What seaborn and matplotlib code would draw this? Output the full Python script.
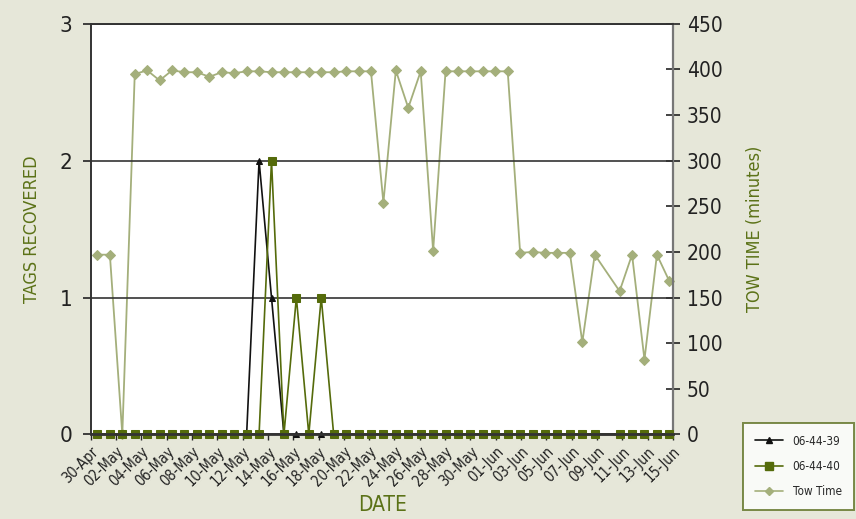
import numpy as np
import pandas as pd
import seaborn as sns
import matplotlib.pyplot as plt
from matplotlib.lines import Line2D

# one value per day, 30-Apr .. 15-Jun (47 days); 09-Jun has no data
dates = pd.date_range('2009-04-30', '2009-06-15', freq='D')
tick_labels = ['30-Apr', '02-May', '04-May', '06-May', '08-May', '10-May', '12-May',
               '14-May', '16-May', '18-May', '20-May', '22-May', '24-May', '26-May',
               '28-May', '30-May', '01-Jun', '03-Jun', '05-Jun', '07-Jun', '09-Jun',
               '11-Jun', '13-Jun', '15-Jun']

tags_39 = [0, 0, 0, 0, 0, 0, 0, 0, 0, 0, 0, 0, 0, 2, 1, 0, 0, 0, 0, 0,
           0, 0, 0, 0, 0, 0, 0, 0, 0, 0, 0, 0, 0, 0, 0, 0, 0, 0, 0, 0,
           0, np.nan, 0, 0, 0, 0, 0]
tags_40 = [0, 0, 0, 0, 0, 0, 0, 0, 0, 0, 0, 0, 0, 0, 2, 0, 1, 0, 1, 0,
           0, 0, 0, 0, 0, 0, 0, 0, 0, 0, 0, 0, 0, 0, 0, 0, 0, 0, 0, 0,
           0, np.nan, 0, 0, 0, 0, 0]
tow_time = [197, 197, 0, 395, 399, 388, 399, 397, 397, 392, 397, 396, 398, 398, 397,
            397, 397, 397, 397, 397, 398, 398, 398, 254, 399, 358, 398, 201, 398, 398,
            398, 398, 398, 398, 199, 200, 199, 199, 199, 101, 197, np.nan, 157, 197,
            82, 197, 168]

day = np.arange(len(dates))
tags = pd.DataFrame({'day': np.concatenate([day, day]),
                     'tags': tags_39 + tags_40,
                     'tag': ['06-44-39'] * len(day) + ['06-44-40'] * len(day)}).dropna()
tow = pd.DataFrame({'day': day, 'tow': tow_time}).dropna()

bg = '#e6e7d9'
olive = '#556b0b'
light = '#a4af7b'
label_c = '#5b7217'

sns.set_style('white')
plt.rcParams['font.family'] = ['DejaVu Sans']
plt.rcParams['font.stretch'] = 'condensed'

fig = plt.figure(figsize=(8.56, 5.19), dpi=100, facecolor=bg)
ax = fig.add_axes([0.106, 0.163, 0.68, 0.791])
ax2 = ax.twinx()

sns.lineplot(data=tow, x='day', y='tow', ax=ax2, color=light, lw=1.3,
             marker='D', markersize=5, markeredgecolor=light, clip_on=False)

sns.lineplot(data=tags, x='day', y='tags', hue='tag', style='tag', ax=ax,
             palette={'06-44-39': '#111111', '06-44-40': olive},
             markers={'06-44-39': '^', '06-44-40': 's'}, dashes=False,
             markersize=5.5, lw=1.2, legend=False, clip_on=False)
for ln in ax.lines:
    ln.set_markeredgecolor(ln.get_color())
ax.lines[0].set_markersize(4.5)

ax.set_zorder(ax2.get_zorder() + 1)
ax.patch.set_visible(False)
ax2.patch.set_visible(True)
ax2.patch.set_facecolor('white')

xmin, xmax = -0.54, 46.28
ax.set_xlim(xmin, xmax)
ax.set_xticks(np.linspace(xmin, xmax, len(tick_labels)))
ax.set_xticklabels(tick_labels, rotation=45, ha='right', rotation_mode='anchor',
                   fontsize=10.5, color='#222222')
ax.set_ylim(0, 3)
ax.set_yticks([0, 1, 2, 3])
ax.tick_params(axis='y', labelsize=16, colors='#222222', length=6, width=1.2,
               direction='out', left=True, pad=7)
ax.tick_params(axis='x', length=4, width=1, direction='out', bottom=True, pad=3)
ax2.set_ylim(0, 450)
ax2.set_yticks(np.arange(0, 451, 50))
ax2.tick_params(axis='y', labelsize=15, colors='#222222', length=10, width=1.2,
                direction='inout', right=True, pad=5)

ax.grid(axis='y', color='#333333', lw=1.2)
ax.grid(axis='x', visible=False)
ax2.grid(False)

for s in ['left', 'bottom', 'top']:
    ax.spines[s].set_color('#333333')
    ax.spines[s].set_linewidth(1.4)
ax.spines['right'].set_visible(False)
ax.spines['bottom'].set_linewidth(2)
for s in ['left', 'bottom', 'top']:
    ax2.spines[s].set_visible(False)
ax2.spines['right'].set_color('#777777')
ax2.spines['right'].set_linewidth(1.6)

ax.set_xlabel('DATE', fontsize=15, color=label_c)
ax.xaxis.set_label_coords(0.502, -0.148)
ax.set_ylabel('TAGS RECOVERED', fontsize=13, color=label_c)
ax.yaxis.set_label_coords(-0.085, 0.5)
ax2.set_ylabel('TOW TIME (minutes)', fontsize=13, color=label_c, rotation=90)
ax2.yaxis.set_label_coords(1.125, 0.5)

handles = [Line2D([], [], color='#111111', marker='^', markersize=4.5, lw=1.2),
           Line2D([], [], color=olive, marker='s', markersize=5.5, lw=1.2),
           Line2D([], [], color=light, marker='D', markersize=4, lw=1.2)]
leg = fig.legend(handles, ['06-44-39', '06-44-40', 'Tow Time'], loc='lower left',
                 bbox_to_anchor=(0.868, 0.017), fontsize=8.5, frameon=True,
                 fancybox=False, borderpad=1.0, labelspacing=1.05,
                 handlelength=2.4, handletextpad=0.8, borderaxespad=0)
leg.get_frame().set_edgecolor('#5b6f1e')
leg.get_frame().set_linewidth(1.4)
leg.get_frame().set_facecolor('white')

fig.savefig('out.png', dpi=100, facecolor=bg)
